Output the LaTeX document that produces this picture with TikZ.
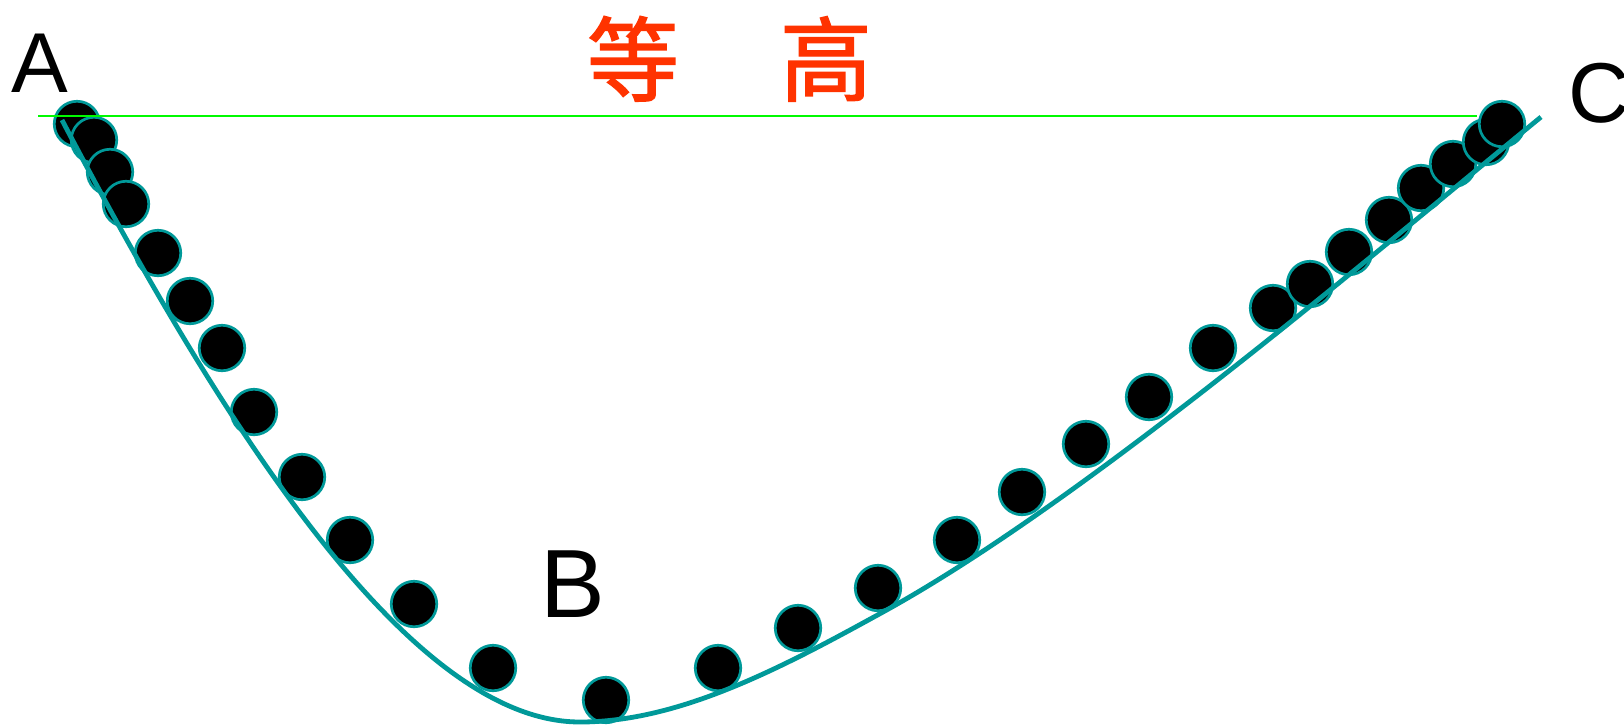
\documentclass[tikz,border=0pt]{standalone}
\usepackage{fontspec}
\setmainfont{Liberation Sans}
\newfontfamily\cjk{Noto Sans CJK SC}[FakeBold=1.6]
\definecolor{tealc}{RGB}{0,153,153}
\definecolor{greenc}{RGB}{0,250,0}
\definecolor{redc}{RGB}{255,51,0}
\begin{document}
\begin{tikzpicture}[x=1pt,y=-1pt,
  ball/.style={circle,fill=black,draw=tealc,line width=2.7pt,minimum size=45.5pt,inner sep=0pt},
  groove/.style={draw=tealc,line width=4.8pt},
  level/.style={draw=greenc,line width=2.7pt},
  lbl/.style={inner sep=0pt,anchor=base,text=black}]
\useasboundingbox (0,0) rectangle (1624,724);
% balls
\foreach \i/\x/\y in {1/77/124,2/94/140,3/110/172,4/126/204,5/158/253,6/190/301,
  7/222/348,8/254/412,9/302/477,10/350/540,11/414/604,12/493/668,13/606/700,
  14/718/668,15/798/628,16/878/588,17/957/540,18/1022/492,19/1086/444,
  20/1149/397,21/1213/348,22/1273/308,23/1310/284,24/1349/252,25/1389/220,
  26/1421/188,27/1453/164,28/1486/142,29/1502/124}
  \node[ball] (b\i) at (\x,\y) {};
% groove
\coordinate (pA) at (62,120);
\coordinate (pB) at (580,722);
\coordinate (pM) at (883,612);
\coordinate (pC) at (1541,117);
\draw[groove] (pA) .. controls (240,460) and (420,722) .. (pB)
  .. controls (680,722) and (783,667) .. (pM)
  .. controls (1083,502) and (1361,264) .. (pC);
% level line
\coordinate (l0) at (38,116);
\coordinate (l1) at (1477,116);
\draw[level] (l0) -- (l1);
% labels
\node[lbl,font=\fontsize{85}{85}\selectfont] (A) at (40,92) {A};
\node[lbl,font=\fontsize{97}{97}\selectfont] (B) at (573,617) {B};
\node[lbl,font=\fontsize{85}{85}\selectfont] (C) at (1599,122) {C};
\node[lbl,text=redc,font=\cjk\fontsize{92}{92}\selectfont] (T) at (729.5,94) {等\hspace{101pt}高};
\end{tikzpicture}
\end{document}
